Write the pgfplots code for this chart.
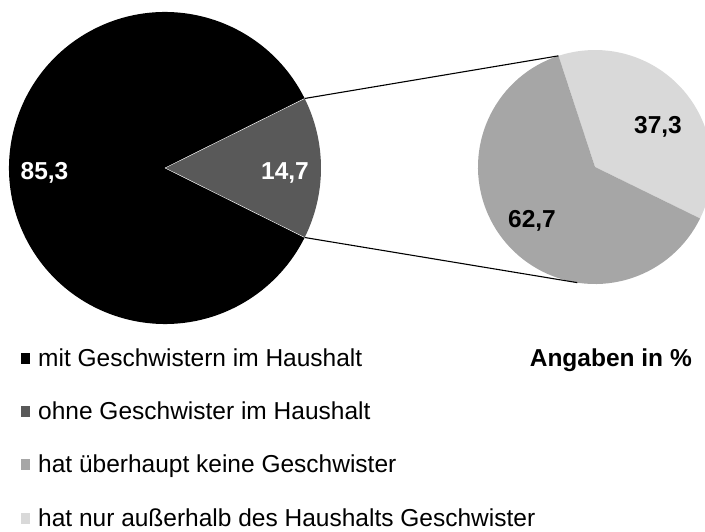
\documentclass[border=0pt]{standalone}
\usepackage{fontspec}
\setmainfont{Liberation Sans}
\usepackage{pgfplots}
\usepackage{pgfplotstable}
\usetikzlibrary{calc}
\pgfplotsset{compat=1.18}
\definecolor{cA}{HTML}{000000}
\definecolor{cB}{HTML}{595959}
\definecolor{cC}{HTML}{A6A6A6}
\definecolor{cD}{HTML}{D9D9D9}
% main pie (percent)
\pgfplotstableread{
label value
mit  85.3
ohne 14.7
}\maintable
% secondary pie (percent of "ohne")
\pgfplotstableread{
label value
keine     62.7
ausserhalb 37.3
}\subtable
\pgfplotstablegetelem{1}{value}\of\maintable
\pgfmathsetmacro\halfB{\pgfplotsretval*3.6/2}
\pgfmathsetmacro\negB{-\halfB}
\pgfmathsetmacro\endA{360-\halfB}
\pgfplotstablegetelem{1}{value}\of\subtable
\pgfmathsetmacro\startD{-26.1}
\pgfmathsetmacro\endD{\startD+\pgfplotsretval*3.6}
\pgfmathsetmacro\endC{\startD+360}
\tikzset{
  lab/.style={inner sep=0pt, text height=17.5bp, text depth=0pt,
    font=\fontsize{24.5bp}{28bp}\selectfont\bfseries},
  leg/.style={anchor=west, inner sep=0pt, text height=17.5bp, text depth=0pt,
    font=\fontsize{24.5bp}{28bp}\selectfont},
}
\begin{document}
\begin{tikzpicture}
\begin{axis}[
  width=705bp, height=532bp, scale only axis,
  xmin=0, xmax=705, ymin=0, ymax=532,
  hide axis, clip=false,
]
% big pie
\fill[cA] (axis cs:165,364) -- ++(\halfB:156bp) arc[start angle=\halfB, end angle=\endA, radius=156bp] -- cycle;
\fill[cB] (axis cs:165,364) -- ++(\negB:156bp) arc[start angle=\negB, end angle=\halfB, radius=156bp] -- cycle;
\draw[white, line width=0.4pt] (axis cs:165,364) -- ++(\halfB:156bp);
\draw[white, line width=0.4pt] (axis cs:165,364) -- ++(\negB:156bp);
% small pie
\fill[cD] (axis cs:595,365) -- ++(\startD:117bp) arc[start angle=\startD, end angle=\endD, radius=117bp] -- cycle;
\fill[cC] (axis cs:595,365) -- ++(\endD:117bp) arc[start angle=\endD, end angle=\endC, radius=117bp] -- cycle;
% connector lines
\draw[black, line width=1.1pt] ($(axis cs:165,364)+(\halfB:156bp)$) -- ($(axis cs:595,365)+(\endD:117bp)$);
\draw[black, line width=1.1pt] ($(axis cs:165,364)+(\negB:156bp)$) -- ($(axis cs:595,365)+(261.3:117bp)$);
% labels
\node[white, lab] at (axis cs:44.5,361.5) {85,3};
\node[white, lab] at (axis cs:285,361.5) {14,7};
\node[black, lab] at (axis cs:658,407) {37,3};
\node[black, lab] at (axis cs:532,313) {62,7};
% legend
\fill[cA] (axis cs:21,168) rectangle (axis cs:30,179);
\fill[cB] (axis cs:21,115) rectangle (axis cs:30,126);
\fill[cC] (axis cs:21,62) rectangle (axis cs:30,73);
\fill[cD] (axis cs:21,8) rectangle (axis cs:30,19);
\node[leg] at (axis cs:38,174) {mit Geschwistern im Haushalt};
\node[leg] at (axis cs:38,121) {ohne Geschwister im Haushalt};
\node[leg] at (axis cs:38,68) {hat überhaupt keine Geschwister};
\node[leg] at (axis cs:38,14) {hat nur außerhalb des Haushalts Geschwister};
\node[leg, anchor=east, font=\fontsize{24.5bp}{28bp}\selectfont\bfseries] at (axis cs:692,174) {Angaben in \%};
\end{axis}
\pgfresetboundingbox
\useasboundingbox (0,0) rectangle (705bp,532bp);
\end{tikzpicture}
\end{document}
